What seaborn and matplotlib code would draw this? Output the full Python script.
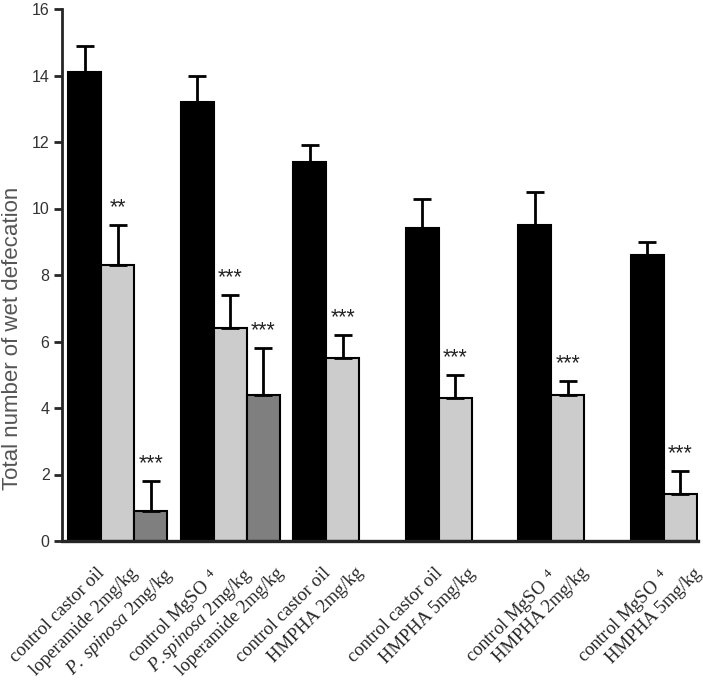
import numpy as np
import pandas as pd
import matplotlib
matplotlib.use('Agg')
import matplotlib.pyplot as plt
import matplotlib.transforms as mtransforms
import seaborn as sns

# данные
labels = ['control castor oil', 'loperamide 2mg/kg', r'$\mathit{P.\ spinosa}$ 2mg/kg',
          r'control MgSO$\;\;^{4}$', r'$\mathit{P.spinosa}$ 2mg/kg', 'loperamide 2mg/kg',
          'control castor oil', 'HMPHA 2mg/kg',
          'control castor oil', 'HMPHA 5mg/kg',
          r'control MgSO$\;\;^{4}$', 'HMPHA 2mg/kg',
          r'control MgSO$\;\;^{4}$', 'HMPHA 5mg/kg']
means = [14.1, 8.3, 0.9, 13.2, 6.4, 4.4, 11.4, 5.5, 9.4, 4.3, 9.5, 4.4, 8.6, 1.4]
sems = [0.8, 1.2, 0.9, 0.8, 1.0, 1.4, 0.5, 0.7, 0.9, 0.7, 1.0, 0.4, 0.4, 0.7]
group = [0, 0, 0, 1, 1, 1, 2, 2, 3, 3, 4, 4, 5, 5]
slot = [0, 1, 2, 0, 1, 2, 0, 1, 0, 1, 0, 1, 0, 1]
stars = ['', '**', '***', '', '***', '***', '', '***', '', '***', '', '***', '', '***']

kind_names = ['control', 'treated', 'treated2']
palette = {'control': '#000000', 'treated': '#cccccc', 'treated2': '#7f7f7f'}

# расположение столбцов: 6 групп по 3 места
pos = [g * 3.4 + s for g, s in zip(group, slot)]
df = pd.DataFrame({'pos': pos, 'mean': means, 'sem': sems,
                   'kind': [kind_names[s] for s in slot]})

sns.set_style('ticks')
plt.rcParams['font.family'] = ['Liberation Sans', 'DejaVu Sans']
plt.rcParams['mathtext.fontset'] = 'custom'
plt.rcParams['mathtext.rm'] = 'Liberation Serif'
plt.rcParams['mathtext.it'] = 'Liberation Serif:italic'

fig = plt.figure(figsize=(7.03, 6.83), dpi=100)
ax = fig.add_axes([62 / 703, 1 - 541 / 683, 636 / 703, 532 / 683])

sns.barplot(data=df, x='pos', y='mean', hue='kind', hue_order=kind_names,
            palette=palette, native_scale=True, width=1.0, dodge=False,
            legend=False, edgecolor='black', linewidth=1.5, errorbar=None, ax=ax)

ax.errorbar(df['pos'], df['mean'], yerr=[np.zeros(len(df)), df['sem']],
            fmt='none', ecolor='black', elinewidth=2, capsize=6.5, capthick=2, zorder=3)

for x, top, s in zip(df['pos'], df['mean'] + df['sem'], stars):
    if s:
        ax.annotate(s, (x, top), xytext=(0, 5), textcoords='offset points',
                    ha='center', va='bottom', fontsize=15.5, color='#222222')

ax.set_xlim(-0.68, 18.53)
ax.set_ylim(0, 16)
ax.set_yticks(range(0, 17, 2))
ax.tick_params(axis='y', length=6, width=2, pad=3, labelsize=11.5, labelcolor='#333333')
ax.set_xticks(pos)
ax.set_xticklabels(labels, rotation=45, ha='right', rotation_mode='anchor',
                   fontsize=13.3, family='Liberation Serif')
ax.tick_params(axis='x', length=0, pad=17)
# сдвигаем подписи чуть вправо
shift = mtransforms.ScaledTranslation(12 / 100, 0, fig.dpi_scale_trans)
for lab in ax.get_xticklabels():
    lab.set_transform(lab.get_transform() + shift)

ax.set_xlabel('')
ax.set_ylabel('Total number of wet defecation', fontsize=16, color='#555555')
ax.yaxis.set_label_coords(-0.062, 0.38)

sns.despine(ax=ax)
ax.spines['left'].set_linewidth(2)
ax.spines['bottom'].set_linewidth(2.4)

fig.savefig('out.png', dpi=100)
